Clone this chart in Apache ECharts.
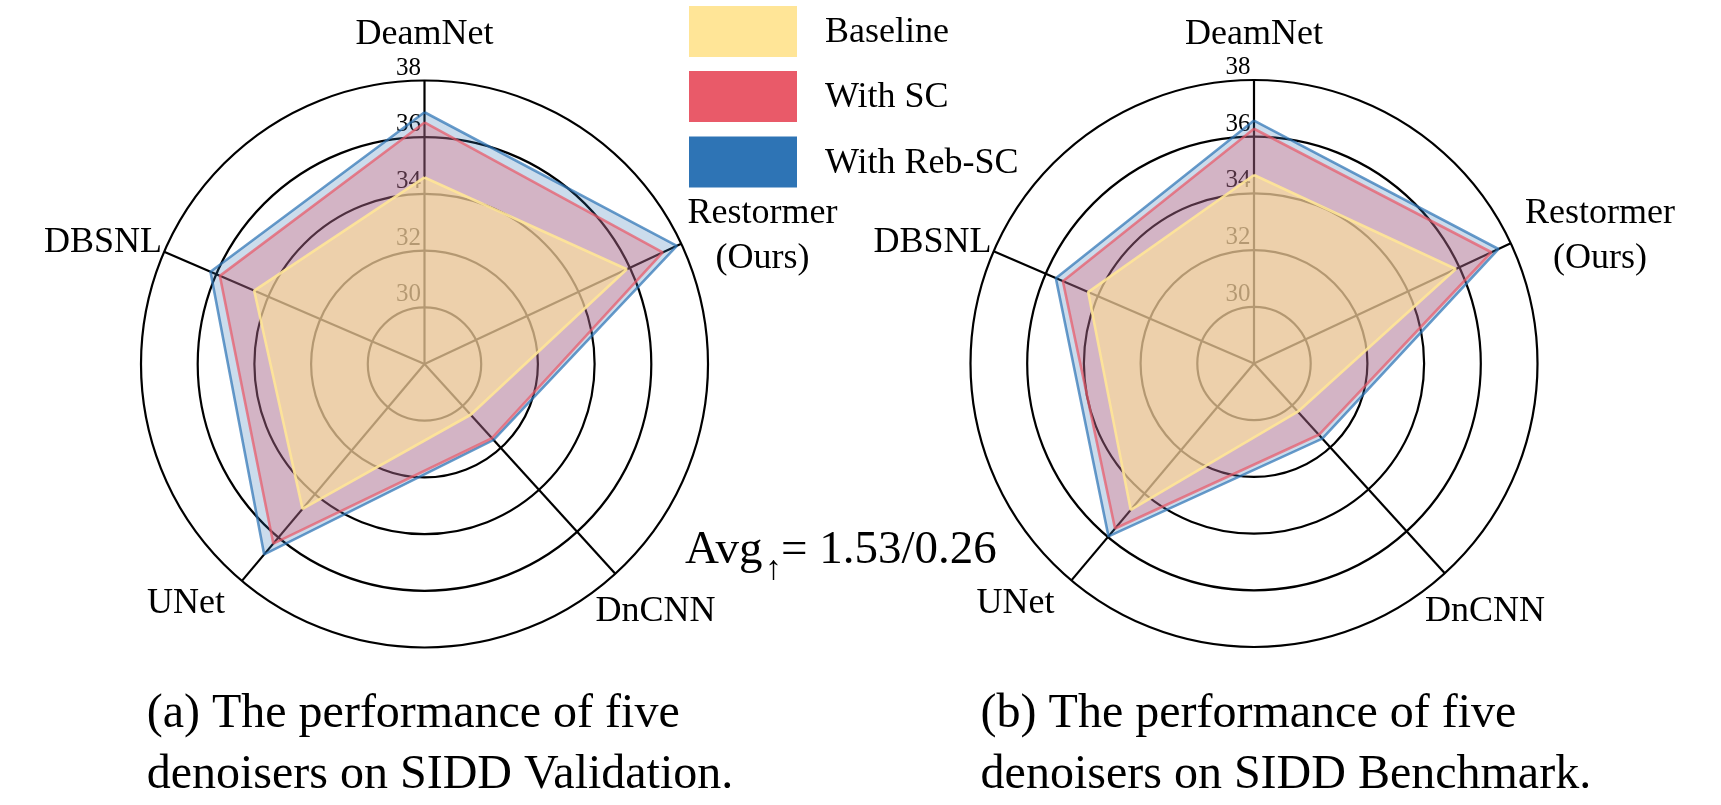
<!DOCTYPE html>
<html>
<head>
<meta charset="utf-8">
<script src="https://cdn.jsdelivr.net/npm/echarts@6/dist/echarts.min.js"></script>
<style>
html,body{margin:0;padding:0;background:#fff;}
#chart{width:1721px;height:805px;}
</style>
</head>
<body>
<div id="chart"></div>
<script>
// ---------- data ----------
const indicators = ['DeamNet', 'DBSNL', 'UNet', 'DnCNN', 'Restormer\n(Ours)'];
const seriesNames = ['Baseline', 'With SC', 'With Reb-SC'];
const ringTicks = [30, 32, 34, 36, 38];
// (a) SIDD Validation, order: DeamNet, DBSNL, UNet, DnCNN, Restormer
const valBaseline = [34.58, 34.54, 34.68, 30.42, 35.88];
const valSC       = [36.52, 35.86, 36.28, 31.54, 37.28];
const valReb      = [36.88, 36.22, 36.78, 31.62, 37.83];
// (b) SIDD Benchmark
const benBaseline = [34.65, 34.37, 34.75, 30.30, 35.86];
const benSC       = [36.28, 35.34, 35.61, 31.40, 37.25];
const benReb      = [36.57, 35.61, 35.97, 31.58, 37.52];
const avgText = '= 1.53/0.26';
const captions = [
  '(a) The performance of five\ndenoisers on SIDD Validation.',
  '(b) The performance of five\ndenoisers on SIDD Benchmark.'
];

// ---------- layout / style ----------
const FONT = '"Liberation Serif", "Times New Roman", serif';
const axisAngles = [0, 66.7, 139.9, 222.3, 295.1]; // degrees, counter-clockwise from top
const centers = [[424.5, 364], [1254, 363.5]];
const R = 283.5;
const colors = ['#FFE597', '#E95A69', '#2E74B5'];
const fillOpacity = [0.58, 0.30, 0.25];
const lineOpacity = [0.9, 0.72, 0.72];
const chartData = [[valBaseline, valSC, valReb], [benBaseline, benSC, benReb]];

function closed(vals) {
  const pts = vals.map((v, k) => [v, axisAngles[k]]);
  pts.push([vals[0], axisAngles[0]]);
  return pts;
}

const series = [];
centers.forEach((c, i) => {
  // radial axis spokes
  series.push({
    type: 'custom',
    coordinateSystem: 'polar',
    polarIndex: i,
    silent: true,
    z: 1,
    data: axisAngles.map(a => [38, a]),
    renderItem: function (params, api) {
      const a = api.value(1);
      const p0 = api.coord([28, a]);
      const p1 = api.coord([api.value(0), a]);
      return {
        type: 'line',
        shape: { x1: p0[0], y1: p0[1], x2: p1[0], y2: p1[1] },
        style: { stroke: '#000', lineWidth: 2.2 }
      };
    }
  });
  // polygons: blue (bottom), red, yellow (top)
  [2, 1, 0].forEach(s => {
    series.push({
      type: 'line',
      name: seriesNames[s],
      coordinateSystem: 'polar',
      polarIndex: i,
      data: closed(chartData[i][s]),
      symbol: 'none',
      showSymbol: false,
      silent: true,
      z: 2,
      lineStyle: { color: colors[s], width: 2.6, opacity: lineOpacity[s] },
      areaStyle: { color: colors[s], opacity: fillOpacity[s] },
      itemStyle: { color: colors[s] }
    });
  });
});

// ---------- texts ----------
const graphic = [];
function txt(text, x, y, size, align, extra) {
  graphic.push(Object.assign({
    type: 'text', x: x, y: y, silent: true, z: 10,
    style: Object.assign({
      text: text, fontFamily: FONT, fontSize: size, fill: '#000',
      align: align || 'left', verticalAlign: 'middle'
    }, extra || {})
  }));
}
// axis names
const nameOffsets = [
  { dx: 0, y: 35, align: 'center' },          // DeamNet
  { dx: -262.5, y: 243, align: 'right' },     // DBSNL
  { dx: -277.5, y: 604, align: 'left' },      // UNet
  { dx: 171, y: 611.5, align: 'left' },       // DnCNN
  { dx: 338, y: 236.5, align: 'center' }      // Restormer
];
centers.forEach((c, i) => {
  indicators.forEach((name, k) => {
    const o = nameOffsets[k];
    let dx = o.dx;
    if (i === 1 && k === 4) dx = 346;
    txt(name, c[0] + dx, o.y, 36, o.align, { lineHeight: 45 });
  });
});
// legend
const legendTops = [6, 71, 136.5];
seriesNames.forEach((n, s) => {
  graphic.push({
    type: 'rect', silent: true, z: 10,
    shape: { x: 689, y: legendTops[s], width: 108, height: 51 },
    style: { fill: colors[s] }
  });
  txt(n, 825, legendTops[s] + 27, 36, 'left');
});
// Avg annotation
txt('Avg', 685, 551, 47, 'left');
txt('\u2191', 765, 570, 34, 'left');
txt(avgText, 781, 551, 47, 'left');
// captions
txt(captions[0], 146.7, 745, 48, 'left', { lineHeight: 61 });
txt(captions[1], 980.6, 745, 48, 'left', { lineHeight: 61 });

const option = {
  backgroundColor: '#ffffff',
  animation: false,
  polar: centers.map(c => ({ center: c, radius: R })),
  angleAxis: centers.map((c, i) => ({
    polarIndex: i, type: 'value', min: 0, max: 360,
    startAngle: 90, clockwise: false,
    axisLine: { show: false }, axisTick: { show: false },
    axisLabel: { show: false }, splitLine: { show: false }
  })),
  radiusAxis: centers.map((c, i) => ({
    polarIndex: i, type: 'value', min: 28, max: 38, interval: 2,
    axisLine: { show: false }, axisTick: { show: false },
    splitLine: { show: true, lineStyle: { color: '#000', width: 2.2 } },
    axisLabel: {
      show: true, showMinLabel: false, fontFamily: FONT, fontSize: 25, color: '#000',
      margin: 16, align: 'center', verticalAlign: 'bottom',
      formatter: v => (ringTicks.indexOf(v) >= 0 ? String(v) : '')
    }
  })),
  series: series,
  graphic: graphic
};

const chart = echarts.init(document.getElementById('chart'), null, { renderer: 'canvas' });
chart.setOption(option);
</script>
</body>
</html>
